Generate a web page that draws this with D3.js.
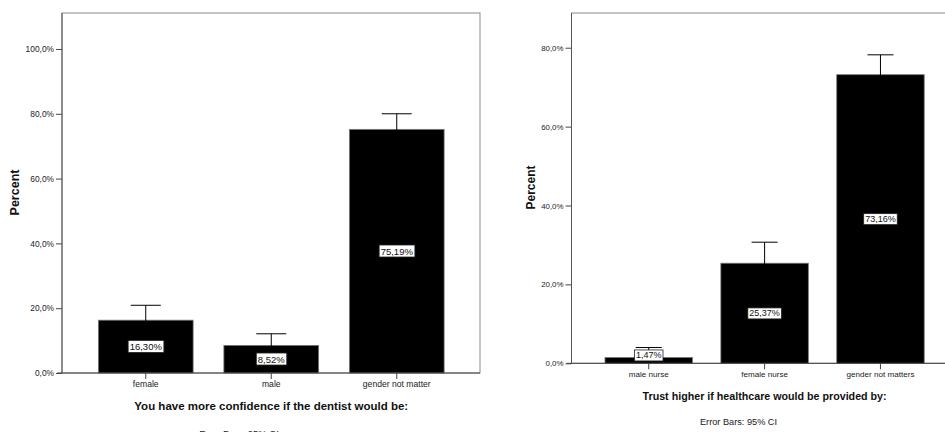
<!DOCTYPE html>
<html>
<head>
<meta charset="utf-8">
<script src="https://cdn.jsdelivr.net/npm/d3@7"></script>
<style>
  body { margin: 0; background: #fff; }
  svg { display: block; font-family: "Liberation Sans", Arial, sans-serif; }
  .tick text { fill: #222; }
  .tick line { stroke: #444; }
  .frame { fill: none; stroke: #8a8a8a; stroke-width: 1; }
  .axis-title { font-weight: bold; fill: #111; }
  .bar { fill: #000; stroke: #777; stroke-width: 0.8; }
  .err { stroke: #000; stroke-width: 1; fill: none; }
  .lbl-box { fill: #fff; stroke: #222; stroke-width: 0.8; }
  .lbl { fill: #111; }
  .note { fill: #222; }
</style>
</head>
<body>
<svg id="the-svg" width="945" height="432"></svg>
<script>
// Left chart: dentist
const dentistCategories = ['female', 'male', 'gender not matter'];
const dentistPercent = [16.30, 8.52, 75.19];
const dentistCiLow = [11.7, 5.0, 70.4];
const dentistCiHigh = [20.9, 12.1, 80.0];
const dentistTicks = [0, 20, 40, 60, 80, 100];
const dentistTitle = 'You have more confidence if the dentist would be:';

// Right chart: nurse
const nurseCategories = ['male nurse', 'female nurse', 'gender not matters'];
const nursePercent = [1.47, 25.37, 73.16];
const nurseCiLow = [0.0, 20.0, 68.1];
const nurseCiHigh = [4.0, 30.7, 78.2];
const nurseTicks = [0, 20, 40, 60, 80];
const nurseTitle = 'Trust higher if healthcare would be provided by:';

const NOTE = 'Error Bars: 95% CI';

const locale = d3.formatLocale({ decimal: ',', thousands: '.', grouping: [3], currency: ['', ''] });
const fmtTick = d => locale.format('.1f')(d) + '%';
const fmtLabel = d => locale.format('.2f')(d) + '%';

const svg = d3.select('#the-svg');

drawChart({
  categories: dentistCategories, values: dentistPercent,
  lo: dentistCiLow, hi: dentistCiHigh, ticks: dentistTicks, title: dentistTitle,
  frame: { x0: 62, x1: 480, y0: 13, y1: 373 },
  band: [83, 459.5], yMax: 111.1,
  yTitleX: 15, yTitleY: 192.5, capW: 30, noteX: 239, noteY: 434,
  fonts: { tick: 8.4, label: 9.5, title: 11.5, percent: 12.5, note: 9.5 }
});

drawChart({
  categories: nurseCategories, values: nursePercent,
  lo: nurseCiLow, hi: nurseCiHigh, ticks: nurseTicks, title: nurseTitle,
  frame: { x0: 571.5, x1: 960, y0: 13, y1: 363.3 },
  band: [590.8, 938.4], yMax: 88.8,
  yTitleX: 531, yTitleY: 187.5, capW: 26, noteX: 738.5, noteY: 421.7,
  fonts: { tick: 7.9, label: 9, title: 10.7, percent: 12, note: 9.2 }
});

function drawChart(c) {
  const f = c.frame;
  const g = svg.append('g');

  const x = d3.scaleBand()
    .domain(c.categories)
    .range(c.band)
    .paddingInner(0.245)
    .paddingOuter(0.1225);

  const y = d3.scaleLinear()
    .domain([0, c.yMax])
    .range([f.y1, f.y0]);

  // frame
  g.append('rect')
    .attr('class', 'frame')
    .attr('x', f.x0).attr('y', f.y0)
    .attr('width', f.x1 - f.x0).attr('height', f.y1 - f.y0);

  // y axis
  const yAxis = g.append('g')
    .attr('transform', `translate(${f.x0},0)`)
    .call(d3.axisLeft(y).tickValues(c.ticks).tickFormat(fmtTick).tickSize(6).tickPadding(2).tickSizeOuter(0));
  yAxis.select('.domain').remove();
  yAxis.selectAll('.tick text').style('font-size', c.fonts.tick + 'px');
  yAxis.append('line')
    .attr('x1', 0).attr('x2', 0).attr('y1', f.y0).attr('y2', f.y1)
    .attr('stroke', '#555');

  // bars
  const idx = d3.range(c.categories.length);
  g.selectAll('.bar')
    .data(idx)
    .enter()
    .append('rect')
      .attr('class', 'bar')
      .attr('x', i => x(c.categories[i]))
      .attr('y', i => y(c.values[i]))
      .attr('width', x.bandwidth())
      .attr('height', i => y(0) - y(c.values[i]));

  // error bars
  const cx = i => x(c.categories[i]) + x.bandwidth() / 2;
  const errs = g.selectAll('.errbar').data(idx).enter().append('g');
  errs.append('line').attr('class', 'err')
    .attr('x1', cx).attr('x2', cx)
    .attr('y1', i => y(c.lo[i])).attr('y2', i => y(c.hi[i]));
  errs.append('line').attr('class', 'err')
    .attr('x1', i => cx(i) - c.capW / 2).attr('x2', i => cx(i) + c.capW / 2)
    .attr('y1', i => y(c.hi[i])).attr('y2', i => y(c.hi[i]));

  // x axis
  const xAxis = g.append('g')
    .attr('transform', `translate(0,${f.y1})`)
    .call(d3.axisBottom(x).tickSize(6).tickPadding(2).tickSizeOuter(0));
  xAxis.select('.domain').remove();
  xAxis.selectAll('.tick text').style('font-size', (c.fonts.tick + 0.2) + 'px');
  xAxis.append('line')
    .attr('x1', f.x0 - 5).attr('x2', f.x1).attr('y1', 0).attr('y2', 0)
    .attr('stroke', '#444');

  // value labels
  const labels = g.selectAll('.val').data(idx).enter().append('g')
    .attr('transform', i => {
      const mid = (y(0) + y(c.values[i])) / 2;
      return `translate(${cx(i)},${Math.min(mid, y(0) - 8)})`;
    });
  labels.append('text')
    .attr('class', 'lbl')
    .attr('text-anchor', 'middle')
    .attr('dy', '0.35em')
    .style('font-size', c.fonts.label + 'px')
    .text(i => fmtLabel(c.values[i]));
  labels.each(function () {
    const t = d3.select(this).select('text');
    const b = t.node().getBBox();
    d3.select(this).insert('rect', 'text')
      .attr('class', 'lbl-box')
      .attr('x', b.x - 1.5).attr('y', b.y - 0.5)
      .attr('width', b.width + 3).attr('height', b.height + 1);
  });

  // titles
  const midX = (c.band[0] + c.band[1]) / 2;
  g.append('text')
    .attr('class', 'axis-title')
    .attr('x', midX).attr('y', f.y1 + 33)
    .attr('dy', '0.35em')
    .attr('text-anchor', 'middle')
    .style('font-size', c.fonts.title + 'px')
    .text(c.title);

  g.append('text')
    .attr('class', 'axis-title')
    .attr('transform', `translate(${c.yTitleX},${c.yTitleY}) rotate(-90)`)
    .attr('dy', '0.35em')
    .attr('text-anchor', 'middle')
    .style('font-size', c.fonts.percent + 'px')
    .text('Percent');

  g.append('text')
    .attr('class', 'note')
    .attr('x', c.noteX).attr('y', c.noteY)
    .attr('dy', '0.35em')
    .attr('text-anchor', 'middle')
    .style('font-size', c.fonts.note + 'px')
    .text(NOTE);
}
</script>
</body>
</html>
